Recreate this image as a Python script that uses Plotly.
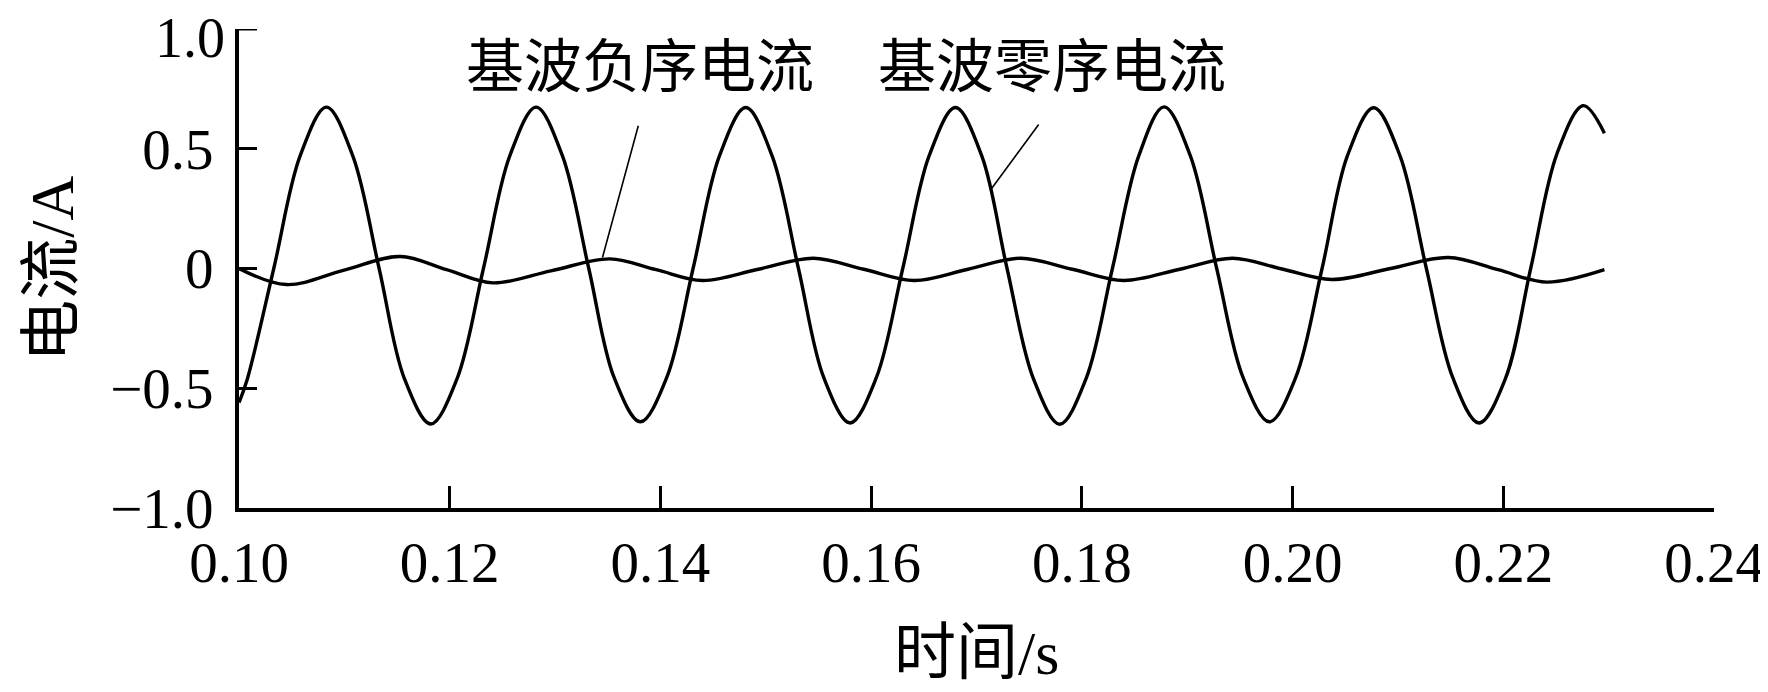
import plotly.graph_objects as go

# ---- data ----
# large waveform (基波零序电流)
t_big = [0.1000, 0.1008, 0.1033, 0.1058, 0.1083, 0.1108, 0.1133, 0.1157, 0.1182, 0.1207,
         0.1232, 0.1257, 0.1282, 0.1307, 0.1332, 0.1356, 0.1381, 0.1406, 0.1431, 0.1456,
         0.1481, 0.1506, 0.1531, 0.1555, 0.1580, 0.1605, 0.1630, 0.1655, 0.1680, 0.1705,
         0.1729, 0.1754, 0.1779, 0.1804, 0.1829, 0.1854, 0.1878, 0.1903, 0.1928, 0.1953,
         0.1978, 0.2003, 0.2028, 0.2052, 0.2077, 0.2102, 0.2127, 0.2152, 0.2177, 0.2202,
         0.2226, 0.2251, 0.2276, 0.2296]
i_big = [-0.56, -0.46, 0.00, 0.47, 0.674, 0.47, 0.00, -0.46, -0.649, -0.46,
         0.00, 0.47, 0.674, 0.47, 0.00, -0.455, -0.640, -0.455, 0.00, 0.47,
         0.672, 0.47, 0.00, -0.455, -0.645, -0.455, 0.00, 0.47, 0.672, 0.47,
         0.00, -0.46, -0.650, -0.46, 0.00, 0.47, 0.675, 0.47, 0.00, -0.455,
         -0.640, -0.455, 0.00, 0.47, 0.671, 0.47, 0.00, -0.455, -0.645, -0.46,
         0.00, 0.48, 0.680, 0.565]

# small waveform (基波负序电流)
t_small = [0.1000, 0.1045, 0.1099, 0.1153, 0.1197, 0.1241, 0.1296, 0.1352, 0.1396, 0.1440,
           0.1493, 0.1545, 0.1593, 0.1641, 0.1692, 0.1742, 0.1791, 0.1840, 0.1893, 0.1943,
           0.1990, 0.2037, 0.2093, 0.2148, 0.2195, 0.2241, 0.2296]
i_small = [0.000, -0.067, -0.008, 0.050, -0.005, -0.060, -0.010, 0.040, -0.005, -0.050,
           -0.003, 0.043, -0.003, -0.050, -0.003, 0.043, -0.003, -0.050, -0.003, 0.043,
           -0.002, -0.046, 0.000, 0.046, -0.005, -0.057, -0.005]

x_ticks = [0.10, 0.12, 0.14, 0.16, 0.18, 0.20, 0.22, 0.24]
x_labels = ["0.10", "0.12", "0.14", "0.16", "0.18", "0.20", "0.22", "0.24"]
y_ticks = [-1.0, -0.5, 0.0, 0.5]
y_labels = ["\u22121.0", "\u22120.5", "0", "0.5"]
y_top_tick = 1.0
y_top_label = "1.0"

labels = ["基波负序电流", "基波零序电流"]
label_pos = [(0.1381, 0.838), (0.1772, 0.838)]
leader_lines = [((0.1379, 0.596), (0.1345, 0.046)),
                ((0.1759, 0.601), (0.1714, 0.332))]

FONT = "Liberation Serif, Times New Roman, Noto Sans CJK SC, serif"
PLOT_W = 1768 - 231 - 60

fig = go.Figure()
fig.add_trace(go.Scatter(x=t_big, y=i_big, mode="lines",
                         line=dict(color="black", width=3.4, shape="spline", smoothing=1.0),
                         name=labels[1], showlegend=False))
fig.add_trace(go.Scatter(x=t_small, y=i_small, mode="lines",
                         line=dict(color="black", width=3.4, shape="spline", smoothing=1.0),
                         name=labels[0], showlegend=False))

for (x0, y0), (x1, y1) in leader_lines:
    fig.add_shape(type="line", x0=x0, y0=y0, x1=x1, y1=y1, xref="x", yref="y",
                  line=dict(color="black", width=1.6))

# top y tick (drawn explicitly so it is not dropped at the range edge)
fig.add_shape(type="line", x0=0, x1=18 / PLOT_W, y0=y_top_tick, y1=y_top_tick,
              xref="paper", yref="y", line=dict(color="black", width=3))
fig.add_annotation(x=0, y=y_top_tick, xref="paper", yref="y", text=y_top_label,
                   showarrow=False, xanchor="right", yanchor="middle", xshift=-12, yshift=-9,
                   font=dict(family=FONT, size=56, color="black"))

for txt, (x, y) in zip(labels, label_pos):
    fig.add_annotation(x=x, y=y, xref="x", yref="y", text=txt, showarrow=False,
                       font=dict(family=FONT, size=58, color="black"),
                       xanchor="center", yanchor="middle")

# axis titles
fig.add_annotation(x=0.5, y=-0.3027, xref="paper", yref="paper", text="时间/s",
                   showarrow=False, font=dict(family=FONT, size=62, color="black"),
                   xanchor="center", yanchor="middle")
fig.add_annotation(x=-0.1273, y=0.5, xref="paper", yref="paper", text="电流/A",
                   showarrow=False, textangle=-90,
                   font=dict(family=FONT, size=62, color="black"),
                   xanchor="center", yanchor="middle")

fig.update_layout(
    width=1768, height=692,
    margin=dict(l=231, r=60, t=21, b=192),
    paper_bgcolor="white", plot_bgcolor="white",
    showlegend=False,
    font=dict(family=FONT, size=57, color="black"),
)
fig.update_xaxes(range=[0.10, 0.24], tickvals=x_ticks, ticktext=x_labels,
                 ticks="inside", ticklen=22, tickwidth=3, tickcolor="black",
                 showline=True, linewidth=4, linecolor="black",
                 showgrid=False, zeroline=False, mirror=False,
                 tickfont=dict(family=FONT, size=57, color="black"),
                 ticklabelstandoff=2)
fig.update_yaxes(range=[-1.0, 1.0], tickvals=y_ticks, ticktext=y_labels,
                 ticks="inside", ticklen=18, tickwidth=3, tickcolor="black",
                 showline=True, linewidth=4, linecolor="black",
                 showgrid=False, zeroline=False, mirror=False,
                 tickfont=dict(family=FONT, size=57, color="black"),
                 ticklabelstandoff=10)

fig.write_html("out.html")
